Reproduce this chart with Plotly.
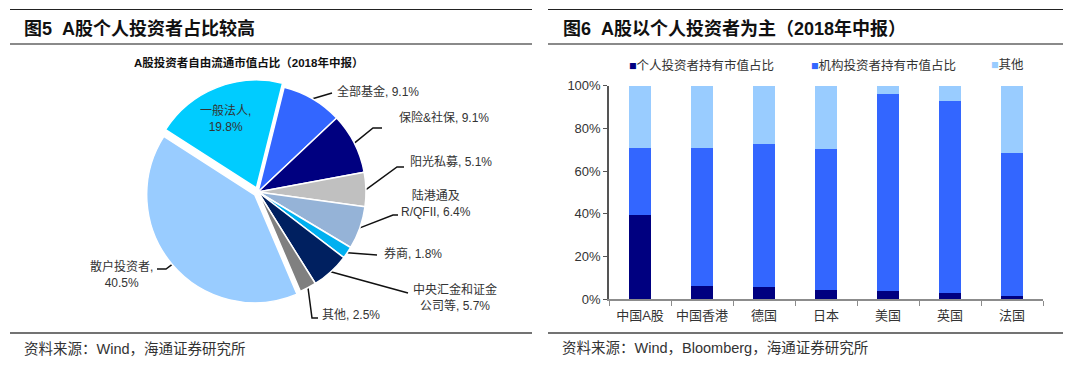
import math
import plotly.graph_objects as go

W, H = 1080, 377

# ---------------- data ----------------
pie_labels = ["全部基金", "保险&社保", "阳光私募", "陆港通及R/QFII", "券商",
              "中央汇金和证金公司等", "其他", "散户投资者", "一般法人"]
pie_display = ["全部基金", "保险&社保", "阳光私募", "陆港通及<br>R/QFII", "券商",
               "中央汇金和证金<br>公司等", "其他", "散户投资者", "一般法人"]
pie_values = [9.1, 9.1, 5.1, 6.4, 1.8, 5.7, 2.5, 40.5, 19.8]

countries = ["中国A股", "中国香港", "德国", "日本", "美国", "英国", "法国"]
individual = [39.5, 6.1, 5.6, 4.2, 3.9, 2.7, 1.4]
institution = [31.4, 64.5, 67.1, 66.3, 92.4, 90.1, 66.9]
other = [29.1, 29.4, 27.3, 29.5, 3.7, 7.2, 31.7]
series_names = ["个人投资者持有市值占比", "机构投资者持有市值占比", "其他"]

# ---------------- style ----------------
pie_colors = ["#3366FF", "#000080", "#C0C0C0", "#95B3D7", "#00B0F0",
              "#002060", "#808080", "#99CCFF", "#00CCFF"]
pie_pull = [0, 0, 0, 0, 0, 0, 0, 0.04, 0.04]
bar_colors = ["#000080", "#3366FF", "#99CCFF"]
FONT = "Liberation Sans, Arial, Noto Sans CJK SC"
TXT = "#333333"

# pie geometry (pixels)
PCX, PCY, PR = 258, 192, 108
ROT = 14
maxpull = max(pie_pull)
half = PR * (1 + maxpull)

fig = go.Figure()

fig.add_trace(go.Pie(
    labels=pie_labels, values=pie_values, sort=False, direction="clockwise",
    rotation=ROT, pull=pie_pull, textinfo="none", hoverinfo="label+percent",
    marker=dict(colors=pie_colors, line=dict(color="white", width=1.5)),
    domain=dict(x=[(PCX - half) / W, (PCX + half) / W],
                y=[1 - (PCY + half) / H, 1 - (PCY - half) / H]),
    showlegend=False,
))

for vals, name, col in zip([individual, institution, other], series_names, bar_colors):
    fig.add_trace(go.Bar(x=countries, y=vals, name=name, marker_color=col,
                         marker_line_width=0, showlegend=False,
                         xaxis="x", yaxis="y"))

# ---------- pie labels with leader lines (tips computed from data) ----------
total = sum(pie_values)
placements = [
    (335, 91, "left", [(332, 93)]),
    (397, 117, "left", [(373, 128), (382, 128)]),
    (408, 162, "left", [(397, 167), (404, 167)]),
    (436, 203, "center", [(393, 215), (398, 215)]),
    (382, 253, "left", [(377, 255)]),
    (455, 297.5, "center", [(408, 293)]),
    (320, 315, "left", [(312, 318), (318, 318)]),
    (121, 274.5, "center", [(166, 269), (157, 269)]),
    (225, 118, "center", []),
]
seps = [" ", " ", " ", " ", " ", " ", " ", "<br>", "<br>"]

annotations = []
cum = 0.0
for disp, v, pl, pull, sep in zip(pie_display, pie_values, placements, pie_pull, seps):
    span = v / total * 360
    mid = math.radians(ROT + cum + span / 2)
    cum += span
    r = PR * (1 + pull)
    tx, ty = PCX + r * math.sin(mid), PCY - r * math.cos(mid)
    x_t, y_t, anc, way = pl
    if way:
        xs = [tx] + [p[0] for p in way]
        ys = [ty] + [p[1] for p in way]
        fig.add_trace(go.Scatter(x=xs, y=ys, mode="lines", xaxis="x3", yaxis="y3",
                                 line=dict(color="#111111", width=1.5),
                                 hoverinfo="skip", showlegend=False))
    annotations.append(dict(x=x_t, y=y_t, xref="x3", yref="y3", xanchor=anc,
                            yanchor="middle", showarrow=False, align="center",
                            text=f"{disp},{sep}{v:.1f}%",
                            font=dict(family=FONT, size=12, color=TXT)))

for x_l, name, col in zip([627, 809, 989], series_names, bar_colors):
    annotations.append(dict(x=x_l, y=65, xref="x3", yref="y3", xanchor="left",
                            yanchor="middle", showarrow=False,
                            text=f'<span style="color:{col}">■</span>{name}',
                            font=dict(family=FONT, size=12.5, color=TXT)))

annotations += [
    dict(x=22, y=28, xref="x3", yref="y3", xanchor="left", yanchor="middle",
         showarrow=False, text="<b>图5\u00a0\u00a0A股个人投资者占比较高</b>",
         font=dict(family=FONT, size=18, color="#111111")),
    dict(x=561, y=28, xref="x3", yref="y3", xanchor="left", yanchor="middle",
         showarrow=False, text="<b>图6\u00a0\u00a0A股以个人投资者为主（2018年中报）</b>",
         font=dict(family=FONT, size=18, color="#111111")),
    dict(x=248, y=62, xref="x3", yref="y3", xanchor="center", yanchor="middle",
         showarrow=False, text="<b>A股投资者自由流通市值占比（2018年中报）</b>",
         font=dict(family=FONT, size=11.5, color="#111111")),
    dict(x=22, y=349, xref="x3", yref="y3", xanchor="left", yanchor="middle",
         showarrow=False, text="资料来源：Wind，海通证券研究所",
         font=dict(family=FONT, size=14.5, color=TXT)),
    dict(x=560, y=348, xref="x3", yref="y3", xanchor="left", yanchor="middle",
         showarrow=False, text="资料来源：Wind，Bloomberg，海通证券研究所",
         font=dict(family=FONT, size=14.5, color=TXT)),
]

shapes = []
for x0, x1 in [(10, 532), (548, 1063)]:
    shapes.append(dict(type="line", xref="x3", yref="y3", x0=x0, x1=x1, y0=9.5, y1=9.5,
                       line=dict(color="#222222", width=1)))
    shapes.append(dict(type="line", xref="x3", yref="y3", x0=x0, x1=x1, y0=44, y1=44,
                       line=dict(color="#8a8a8a", width=2)))
    shapes.append(dict(type="line", xref="x3", yref="y3", x0=x0, x1=x1, y0=333, y1=333,
                       line=dict(color="#444444", width=1.5)))

fig.update_layout(
    template="none",
    width=W, height=H, autosize=False,
    margin=dict(l=0, r=0, t=0, b=0, pad=0, autoexpand=False),
    paper_bgcolor="white", plot_bgcolor="rgba(0,0,0,0)",
    barmode="stack", bargap=0.66, showlegend=False,
    font=dict(family=FONT, color=TXT),
    xaxis=dict(domain=[609 / W, 1043 / W], anchor="y", showgrid=False, automargin=False,
               showline=True, linecolor="#8c8c8c", linewidth=1.5,
               ticks="outside", tickson="boundaries", ticklen=5, tickcolor="#8c8c8c",
               ticklabelstandoff=4,
               tickfont=dict(family=FONT, size=13, color=TXT), fixedrange=True),
    yaxis=dict(domain=[1 - 299 / H, 1 - 85.7 / H], anchor="x", range=[0, 100],
               dtick=20, ticksuffix="%", showgrid=False, zeroline=False, automargin=False,
               showline=True, linecolor="#555555", linewidth=1.5,
               ticks="outside", ticklen=4, tickcolor="#555555",
               tickfont=dict(family=FONT, size=13, color=TXT), fixedrange=True),
    xaxis3=dict(domain=[0, 1], range=[0, W], anchor="y3", visible=False,
                automargin=False, fixedrange=True),
    yaxis3=dict(domain=[0, 1], range=[H, 0], anchor="x3", visible=False,
                automargin=False, fixedrange=True),
    annotations=annotations, shapes=shapes,
)

fig.write_html(
    "out.html",
    config={"displayModeBar": False},
    post_script="document.body.style.margin='0';document.body.style.overflow='hidden';",
)
